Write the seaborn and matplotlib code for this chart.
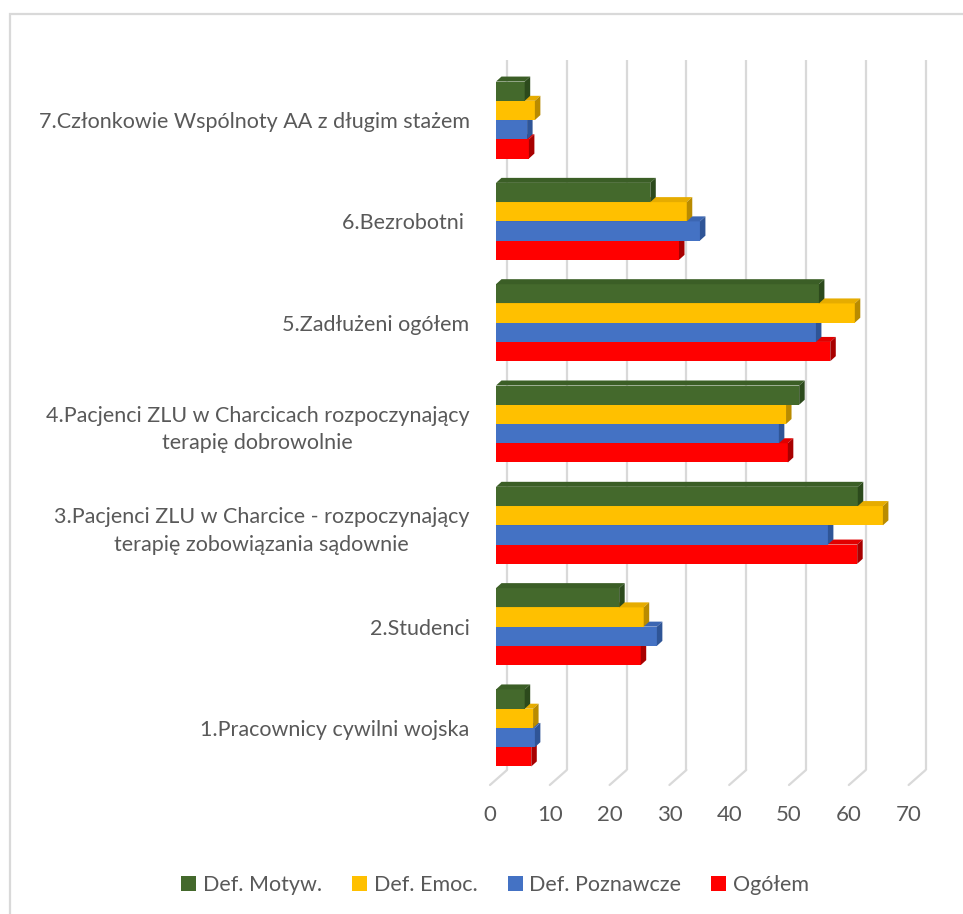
import numpy as np
import pandas as pd
import seaborn as sns
import matplotlib.pyplot as plt
import matplotlib.colors as mcolors
from matplotlib.transforms import blended_transform_factory
from matplotlib.patches import Polygon, Patch, Rectangle

# ---------------- data ----------------
categories = [
    "7.Członkowie Wspólnoty AA z długim stażem",
    "6.Bezrobotni ",
    "5.Zadłużeni ogółem",
    "4.Pacjenci ZLU w Charcicach rozpoczynający\nterapię dobrowolnie",
    "3.Pacjenci ZLU w Charcice - rozpoczynający\nterapię zobowiązania sądownie",
    "2.Studenci",
    "1.Pracownicy cywilni wojska",
]
series = ["Def. Motyw.", "Def. Emoc.", "Def. Poznawcze", "Ogółem"]
motyw = [4.8, 25.8, 54.0, 50.7, 60.5, 20.6, 4.8]
emoc = [6.5, 31.9, 60.0, 48.5, 64.7, 24.7, 6.2]
poznawcze = [5.2, 34.1, 53.5, 47.3, 55.5, 26.9, 6.5]
ogolem = [5.5, 30.6, 55.9, 48.8, 60.4, 24.2, 5.9]
xticks = [0, 10, 20, 30, 40, 50, 60, 70]

colors = ["#44692C", "#FFC000", "#4472C4", "#FF0000"]
side_colors = ["#2C4A1C", "#B98B00", "#2F5597", "#A80000"]
top_colors = ["#3B5E26", "#E6AC00", "#3C66B2", "#E00000"]

rows = []
for s, vals in zip(series, [motyw, emoc, poznawcze, ogolem]):
    for c, v in zip(categories, vals):
        rows.append({"Kategoria": c, "Seria": s, "Wartość": v})
df = pd.DataFrame(rows)

# ---------------- figure ----------------
sns.set_theme(style="white")
plt.rcParams["font.family"] = ["Lato", "DejaVu Sans"]
TXT = "#595959"

W, H = 963, 914
fig = plt.figure(figsize=(W / 100, H / 100), dpi=100)
ax_left, ax_right = 496, 914.6
ax_top, ax_bot = 69.4, 778.6
ax = fig.add_axes([ax_left / W, (H - ax_bot) / H, (ax_right - ax_left) / W, (ax_bot - ax_top) / H])

sns.barplot(data=df, y="Kategoria", x="Wartość", hue="Seria", hue_order=series,
            order=categories, palette=colors, orient="h", width=0.76, gap=0,
            errorbar=None, saturation=1, linewidth=0, legend=False, ax=ax)

ax.set_xlim(0, 70)
ax.set_ylim(len(categories) - 0.5, -0.5)
sns.despine(ax=ax, left=True, bottom=True)
ax.set_xlabel("")
ax.set_ylabel("")
ax.set_xticks([])
ax.tick_params(axis="y", length=0, pad=19, labelsize=15.5, labelcolor=TXT)
for t in ax.get_yticklabels():
    t.set_multialignment("center")
    t.set_linespacing(1.45)

# pixel scales
sx = (ax_right - ax_left) / 70.0           # px per x unit
sy = (ax_bot - ax_top) / len(categories)   # px per category

def fy(ypx):
    return (ax_bot - ypx) / (ax_bot - ax_top)

blend = blended_transform_factory(ax.transData, ax.transAxes)

# back-wall gridlines and floor connectors
back_dx = 11 / sx
front_dx = -6 / sx
for v in xticks:
    ax.plot([v + back_dx, v + back_dx], [fy(60), fy(770)], transform=blend,
            color="#D9D9D9", lw=1.6, zorder=0, clip_on=False, solid_capstyle="butt")
    ax.plot([v + back_dx, v + front_dx], [fy(770), fy(785)], transform=blend,
            color="#D9D9D9", lw=1.6, zorder=0, clip_on=False)
    ax.text(v + front_dx, fy(815), str(v), transform=blend, ha="center", va="center",
            fontsize=16, color=TXT)

# 3D bar faces
ddx = 5.5 / sx
ddy = 5.0 / sy
hex_colors = [mcolors.to_hex(c) for c in colors]
bars = list(ax.patches)
for p in bars:
    h = hex_colors.index(mcolors.to_hex(p.get_facecolor()))
    z = 3 + (len(series) - h)
    p.set_zorder(z)
    x0, y0, w, hh = p.get_x(), p.get_y(), p.get_width(), p.get_height()
    x1 = x0 + w
    yt, yb = y0, y0 + hh
    side = Polygon([(x1, yb), (x1, yt), (x1 + ddx, yt - ddy), (x1 + ddx, yb - ddy)],
                   closed=True, facecolor=side_colors[h], edgecolor="none", zorder=z)
    top = Polygon([(x0, yt), (x1, yt), (x1 + ddx, yt - ddy), (x0 + ddx, yt - ddy)],
                  closed=True, facecolor=top_colors[h], edgecolor="none", zorder=z)
    ax.add_patch(top)
    ax.add_patch(side)

# legend
handles = [Patch(facecolor=c, edgecolor="none") for c in colors]
leg = fig.legend(handles, series, loc="center", bbox_to_anchor=(495 / W, 1 - 885 / H),
                 ncol=4, frameon=False, handlelength=0.7, handleheight=0.7,
                 handletextpad=0.3, columnspacing=1.4, fontsize=15.5)
for t in leg.get_texts():
    t.set_color(TXT)

# chart border
fig.patches.append(Rectangle((10 / W, -0.05), 1.2, (H - 14) / H + 0.05,
                             transform=fig.transFigure, fill=False,
                             edgecolor="#D9D9D9", lw=1.6, zorder=0))

fig.savefig("out.png", dpi=100)
